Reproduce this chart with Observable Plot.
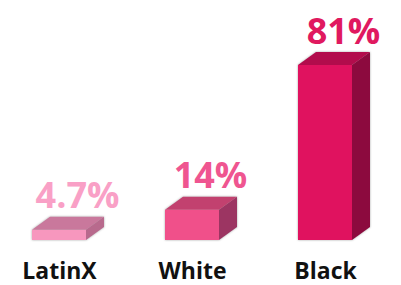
<!DOCTYPE html>
<html>
<head>
<meta charset="utf-8">
<script src="https://cdn.jsdelivr.net/npm/d3@7"></script>
<script src="https://cdn.jsdelivr.net/npm/@observablehq/plot@0.6"></script>
<style>
  html, body { margin: 0; padding: 0; background: #ffffff; }
  #chart { width: 401px; height: 285px; overflow: hidden; }
</style>
</head>
<body>
<div id="chart"></div>
<script>
const categories = ["LatinX", "White", "Black"];
const values = [4.7, 14, 81];
const valueLabels = ["4.7%", "14%", "81%"];
const frontColors = ["#f797be", "#f0508a", "#e0125f"];
const topColors = ["#c9789c", "#c2416f", "#b20c4c"];
const sideColors = ["#b86a8d", "#9c3562", "#8c0a3e"];
const labelColors = ["#f9a0c6", "#ef5590", "#e0195f"];

const data = categories.map((c, i) => ({cat: c, value: values[i], label: valueLabels[i]}));

const DX = 18, DY = -13;

function bandwidthOf(scales) {
  const bw = scales.x.bandwidth;
  if (typeof bw === "function") return bw();
  if (typeof bw === "number") return bw;
  return scales.scales.x.bandwidth;
}

function boxFaces() {
  return Plot.barY(data, {
    x: "cat",
    y: "value",
    render(index, scales, channels) {
      const X = channels.x, Y1 = channels.y1, Y2 = channels.y2;
      const bw = bandwidthOf(scales);
      const g = d3.create("svg:g").attr("style", "filter: drop-shadow(0px 0px 1px rgba(0,0,0,0.35));");
      for (const i of index) {
        const x0 = X[i], x1 = X[i] + bw;
        const yt = Math.min(Y1[i], Y2[i]), yb = Math.max(Y1[i], Y2[i]);
        g.append("polygon")
          .attr("points", [[x1, yt], [x1 + DX, yt + DY], [x1 + DX, yb + DY], [x1, yb]].map(p => p.join(",")).join(" "))
          .attr("fill", sideColors[i]);
        g.append("polygon")
          .attr("points", [[x0, yt], [x1, yt], [x1 + DX, yt + DY], [x0 + DX, yt + DY]].map(p => p.join(",")).join(" "))
          .attr("fill", topColors[i]);
        g.append("rect")
          .attr("x", x0).attr("y", yt).attr("width", bw).attr("height", yb - yt)
          .attr("fill", frontColors[i]);
      }
      return g.node();
    }
  });
}

const chart = Plot.plot({
  width: 401,
  height: 285,
  marginTop: 0,
  marginBottom: 0,
  marginLeft: 0,
  marginRight: 0,
  style: {fontFamily: "'Open Sans', sans-serif", background: "#ffffff"},
  x: {domain: categories, range: [32, 352], paddingInner: 0.594, paddingOuter: 0, axis: null},
  y: {domain: [0, 81], range: [240, 65], axis: null},
  marks: [
    boxFaces(),
    Plot.text(data, {
      x: "cat", y: "value", text: "label",
      dx: DX, dy: -22, lineAnchor: "bottom",
      fontSize: 36, fontWeight: 700,
      fill: (d) => labelColors[categories.indexOf(d.cat)]
    }),
    Plot.text(data, {
      x: "cat", y: () => 0, text: "cat",
      dy: 22, lineAnchor: "top",
      fontSize: 23, fontWeight: 700, fill: "#111111"
    })
  ]
});
document.getElementById("chart").appendChild(chart);
</script>
</body>
</html>
